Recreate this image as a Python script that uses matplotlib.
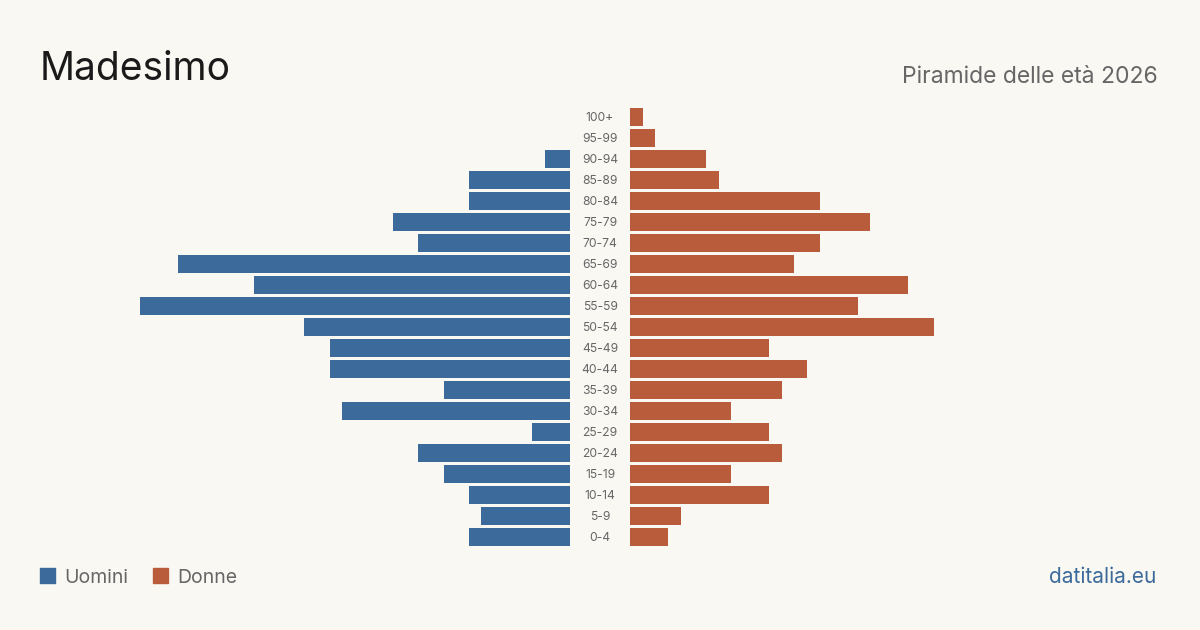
import numpy as np
import matplotlib.pyplot as plt

# dati: classi di età (dal basso verso l'alto)
eta = ["0-4", "5-9", "10-14", "15-19", "20-24", "25-29", "30-34", "35-39",
       "40-44", "45-49", "50-54", "55-59", "60-64", "65-69", "70-74",
       "75-79", "80-84", "85-89", "90-94", "95-99", "100+"]
uomini = [8, 7, 8, 10, 12, 3, 18, 10, 19, 19, 21, 34, 25, 31, 12, 14, 8, 8, 2, 0, 0]
donne = [3, 4, 11, 8, 12, 11, 8, 12, 14, 11, 24, 18, 22, 13, 15, 19, 15, 7, 6, 2, 1]

BLU = "#3b6a9b"
ROSSO = "#b95c3b"
SFONDO = "#faf8f3"

plt.rcParams['font.family'] = ['Inter', 'DejaVu Sans']

W, H = 1200, 630
fig = plt.figure(figsize=(W / 100, H / 100), dpi=100, facecolor=SFONDO)

# asse: da x=40 a x=1160 px, scala 12.65 px per persona
scala = 12.65
ax = fig.add_axes([40 / W, 82.5 / H, 1120 / W, 441 / H])
ax.set_facecolor(SFONDO)
meta = 560 / scala
gap = 30 / scala
ax.set_xlim(-meta, meta)
ax.set_ylim(-0.5, len(eta) - 0.5)

y = np.arange(len(eta))
m = np.array(uomini)
f = np.array(donne)
ax.barh(y[m > 0], -m[m > 0], left=-gap, height=0.81, color=BLU)
ax.barh(y, f, left=gap, height=0.81, color=ROSSO)
for yi, lab in zip(y, eta):
    ax.text(0, yi - 0.2, lab, ha="center", va="baseline", fontsize=8.7,
            color="#666666")
ax.axis("off")

# titoli
fig.text(40 / W, 1 - 80 / H, "Madesimo", fontsize=28, color="#1a1a1a",
         ha="left", va="baseline")
fig.text(1158 / W, 1 - 83 / H, "Piramide delle età 2026", fontsize=16.5,
         color="#666666", ha="right", va="baseline")

# legenda
for x0, col, txt in [(40, BLU, "Uomini"), (153, ROSSO, "Donne")]:
    fig.patches.append(plt.Rectangle((x0 / W, 1 - 583 / H), 15 / W, 15 / H,
                                     transform=fig.transFigure, color=col))
    fig.text((x0 + 24) / W, 1 - 583 / H, txt, fontsize=14, color="#666666",
             ha="left", va="baseline")

fig.text(1156 / W, 1 - 583 / H, "datitalia.eu", fontsize=15, color=BLU,
         ha="right", va="baseline")

fig.savefig("out.png", dpi=100, facecolor=SFONDO)
